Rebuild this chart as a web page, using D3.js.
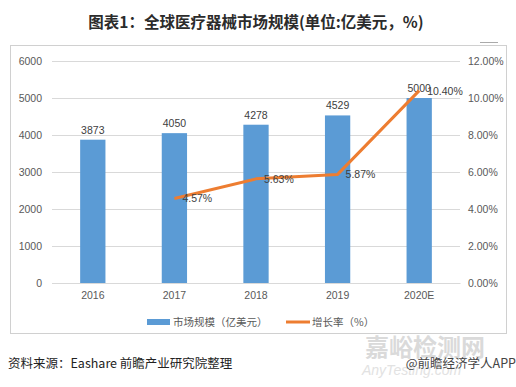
<!DOCTYPE html>
<html>
<head>
<meta charset="utf-8">
<script src="https://cdn.jsdelivr.net/npm/d3@7"></script>
<style>
  body { margin: 0; background: #fff; }
</style>
</head>
<body>
<svg id="my-chart" width="516" height="387" font-family="'Noto Sans CJK SC', 'Noto Sans', sans-serif"></svg>
<script>
// data
const categories = ["2016", "2017", "2018", "2019", "2020E"];
const marketSize = [3873, 4050, 4278, 4529, 5000];
const growthRate = [null, 4.57, 5.63, 5.87, 10.40];
const leftTicks = [0, 1000, 2000, 3000, 4000, 5000, 6000];
const rightTicks = [0, 2, 4, 6, 8, 10, 12];

const svg = d3.select("#my-chart");
const textColor = "#595959";
const numFont = "'Liberation Sans', Arial, sans-serif";

// title
svg.append("text")
    .attr("x", 256).attr("y", 28)
    .attr("text-anchor", "middle")
    .attr("font-size", 15.5).attr("font-weight", "bold")
    .attr("fill", "#2b2b2b")
    .text("图表1：全球医疗器械市场规模(单位:亿美元，%)");

// frame
svg.append("rect")
    .attr("x", 10.5).attr("y", 45.5)
    .attr("width", 496).attr("height", 288)
    .attr("fill", "none").attr("stroke", "#d0d0d0");
svg.append("line")
    .attr("x1", 480).attr("x2", 498).attr("y1", 42.5).attr("y2", 42.5)
    .attr("stroke", "#aaa");

const x = d3.scaleBand().domain(categories).range([52, 460]).paddingInner(0.69).paddingOuter(0.345);
const yL = d3.scaleLinear().domain([0, 6000]).range([283, 61]);
const yR = d3.scaleLinear().domain([0, 12]).range([283, 61]);

// gridlines
svg.append("g").selectAll("line")
    .data(leftTicks).join("line")
    .attr("x1", 52).attr("x2", 460)
    .attr("y1", d => Math.round(yL(d)) + 0.5).attr("y2", d => Math.round(yL(d)) + 0.5)
    .attr("stroke", "#d9d9d9");

// left axis
const axL = svg.append("g").attr("transform", "translate(46,0)")
    .call(d3.axisLeft(yL).tickValues(leftTicks).tickSize(0).tickPadding(4).tickFormat(d3.format("d")));
axL.select(".domain").remove();
axL.attr("font-family", numFont);
axL.selectAll("text").attr("font-size", 10.5).attr("fill", textColor);

// right axis
const axR = svg.append("g").attr("transform", "translate(464,0)")
    .call(d3.axisRight(yR).tickValues(rightTicks).tickSize(0).tickPadding(4)
        .tickFormat(d => d.toFixed(2) + "%"));
axR.select(".domain").remove();
axR.attr("font-family", numFont);
axR.selectAll("text").attr("font-size", 10.5).attr("fill", textColor);

// bottom axis
const axB = svg.append("g").attr("transform", "translate(0,283)")
    .call(d3.axisBottom(x).tickSize(0).tickPadding(9));
axB.select(".domain").attr("stroke", "#d9d9d9");
axB.attr("font-family", numFont);
axB.selectAll("text").attr("font-size", 10.5).attr("fill", textColor);

// bars
svg.append("g").selectAll("rect")
    .data(categories).join("rect")
    .attr("x", d => x(d))
    .attr("width", x.bandwidth())
    .attr("y", (d, i) => yL(marketSize[i]))
    .attr("height", (d, i) => yL(0) - yL(marketSize[i]))
    .attr("fill", "#5b9bd5");

svg.append("g").attr("font-family", numFont).selectAll("text")
    .data(categories).join("text")
    .attr("x", d => x(d) + x.bandwidth() / 2)
    .attr("y", (d, i) => yL(marketSize[i]) - 6)
    .attr("text-anchor", "middle")
    .attr("font-size", 10.5).attr("fill", "#404040")
    .text((d, i) => marketSize[i]);

// growth line
const pts = categories.map((c, i) => ({ c, v: growthRate[i] })).filter(p => p.v !== null);
const line = d3.line()
    .x(p => x(p.c) + x.bandwidth() / 2)
    .y(p => yR(p.v));
svg.append("path")
    .datum(pts)
    .attr("d", line)
    .attr("fill", "none")
    .attr("stroke", "#ed7d31")
    .attr("stroke-width", 3)
    .attr("stroke-linejoin", "round");

svg.append("g").attr("font-family", numFont).selectAll("text")
    .data(pts).join("text")
    .attr("x", p => x(p.c) + x.bandwidth() / 2 + 8)
    .attr("y", p => yR(p.v) + 4)
    .attr("font-size", 10.5).attr("fill", "#404040")
    .text(p => p.v.toFixed(2) + "%");

// legend
const lg = svg.append("g").attr("transform", "translate(0,322)");
lg.append("rect").attr("x", 147).attr("y", -3).attr("width", 23).attr("height", 6).attr("fill", "#5b9bd5");
lg.append("text").attr("x", 173).attr("y", 4).attr("font-size", 10.5).attr("fill", textColor)
    .text("市场规模（亿美元）");
lg.append("line").attr("x1", 286).attr("x2", 310).attr("y1", 0).attr("y2", 0)
    .attr("stroke", "#ed7d31").attr("stroke-width", 3);
lg.append("text").attr("x", 312).attr("y", 4).attr("font-size", 10.5).attr("fill", textColor)
    .text("增长率（%）");

// watermark
svg.append("text").attr("x", 365).attr("y", 356)
    .attr("font-size", 24).attr("font-weight", "bold").attr("fill", "#dadada")
    .text("嘉峪检测网");
svg.append("text").attr("x", 362).attr("y", 375)
    .attr("font-size", 14).attr("font-style", "italic").attr("fill", "#e2e2e2")
    .attr("font-family", numFont)
    .text("AnyTesting.com");

// footer
svg.append("text").attr("x", 8).attr("y", 368)
    .attr("font-size", 12.5).attr("fill", "#222")
    .text("资料来源：Eashare 前瞻产业研究院整理");
svg.append("text").attr("x", 516).attr("y", 368)
    .attr("text-anchor", "end")
    .attr("font-size", 12.5).attr("fill", "#444")
    .text("@前瞻经济学人APP");
</script>
</body>
</html>
